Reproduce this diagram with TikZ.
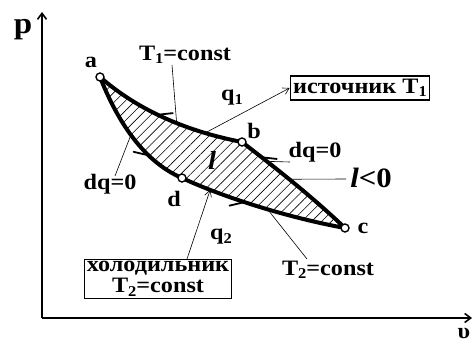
\documentclass[tikz,border=0pt]{standalone}
\usepackage{fontspec}
\setmainfont{Liberation Serif}[FakeStretch=1.1]
\usetikzlibrary{arrows.meta,decorations.markings,patterns.meta}
\newcommand\lowidx[1]{\raisebox{-0.35ex}{\fontsize{15}{15}\selectfont #1}}
\begin{document}
\begin{tikzpicture}[x=1pt,y=-1pt,
  lab/.style={font=\bfseries\fontsize{22}{24}\selectfont, inner sep=1pt},
  curve/.style={line width=4pt, line join=round},
  leader/.style={line width=0.6pt},
  harp/.style={postaction={decorate,decoration={markings,
     mark=at position #1 with {\draw[line width=1.8pt, line cap=round] (2,0) -- (-11,8);}}}},
  harpr/.style={postaction={decorate,decoration={markings,
     mark=at position #1 with {\draw[line width=1.8pt, line cap=round] (-2,0) -- (11,-8);}}}},
  pt/.style={circle, draw, fill=white, line width=1.4pt, minimum size=8pt, inner sep=0pt},
  box/.style={draw, line width=1.1pt, inner sep=3pt, align=center},
  axis/.style={line width=2pt, -{Straight Barb[length=6pt,width=9pt,line width=1.6pt]}}
]
\useasboundingbox (0,0) rectangle (473,345);
% axes
\coordinate (O) at (42,318);
\coordinate (Ytop) at (42,12);
\coordinate (Xend) at (472,318);
\draw[axis] (O) -- (Ytop);
\draw[axis] (O) -- (Xend);
\node[font=\bfseries\fontsize{30}{30}\selectfont, inner sep=0pt] (plab) at (23,30) {p};
\node[font=\bfseries\fontsize{22}{22}\selectfont, inner sep=0pt] (vlab) at (464,333) {υ};
% points
\coordinate (A) at (100,77);
\coordinate (B) at (242,142);
\coordinate (C) at (345,228);
\coordinate (D) at (182,178);
% hatched region
\path[pattern={Lines[angle=45,distance=7pt,line width=0.6pt]}]
  (A) .. controls (140,112) and (190,132) .. (B)
      .. controls (265,160) and (305,190) .. (C)
      .. controls (290,218) and (225,198) .. (D)
      .. controls (140,160) and (115,115) .. (A);
% curves
\draw[curve, harpr=0.45] (A) .. controls (140,112) and (190,132) .. (B)
   coordinate[pos=0.57] (t1p) coordinate[pos=0.76] (q1p);
\draw[curve, harp=0.68] (A) .. controls (115,115) and (140,160) .. (D)
   coordinate[pos=0.5] (dq1p);
\draw[curve, harp=0.38] (D) .. controls (225,198) and (290,218) .. (C)
   coordinate[pos=0.2] (q2p) coordinate[pos=0.55] (t2p);
\draw[curve, harp=0.8] (C) .. controls (305,190) and (265,160) .. (B)
   coordinate[pos=0.48] (lp) coordinate[pos=0.7] (dq2p);
\node[pt] (a) at (A) {};
\node[pt] (b) at (B) {};
\node[pt] (c) at (C) {};
\node[pt] (d) at (D) {};
\node[lab] (alab) at (91,62) {a};
\node[lab] (blab) at (254,131) {b};
\node[lab] (clab) at (363,228) {c};
\node[lab] (dlab) at (174,199) {d};
% labels
\node[lab] (T1) at (185,55) {T\lowidx{1}=const};
\coordinate (T1s) at (172,65);
\draw[leader] (T1s) -- (t1p);
\node[lab] (q1) at (232,98) {q\lowidx{1}};
\node[box, lab, inner sep=3pt] (src) at (360,88) {источник T\lowidx{1}};
\draw[leader, -{Straight Barb[length=6pt,width=7pt]}] (q1p) -- (src.west);
\node[lab] (dqL) at (110,184) {dq=0};
\coordinate (dqLn) at (115,176);
\draw[leader] (dq1p) -- (dqLn);
\node[lab] (dqR) at (315,152) {dq=0};
\coordinate (dqRw) at (290,162);
\draw[leader] (dq2p) -- (dqRw);
\node[font=\bfseries\fontsize{28}{30}\selectfont, inner sep=1pt] (lneg) at (371,178) {\textit{l}<0};
\coordinate (lnegw) at (346,179);
\draw[leader] (lp) -- (lnegw);
\node[font=\bfseries\itshape\fontsize{26}{28}\selectfont, inner sep=0pt] (lin) at (212,160) {l};
\node[lab] (q2) at (221,237) {q\lowidx{2}};
\node[box, lab, inner sep=2pt] (sink) at (158,279) {холодильник\\[-3pt] T\lowidx{2}=const};
\draw[leader, -{Straight Barb[length=6pt,width=7pt]}] (sink.north -| 187,0) -- (q2p);
\node[lab] (T2) at (328,270) {T\lowidx{2}=const};
\coordinate (T2n) at (307,259);
\draw[leader] (T2n) -- (t2p);
\end{tikzpicture}
\end{document}
